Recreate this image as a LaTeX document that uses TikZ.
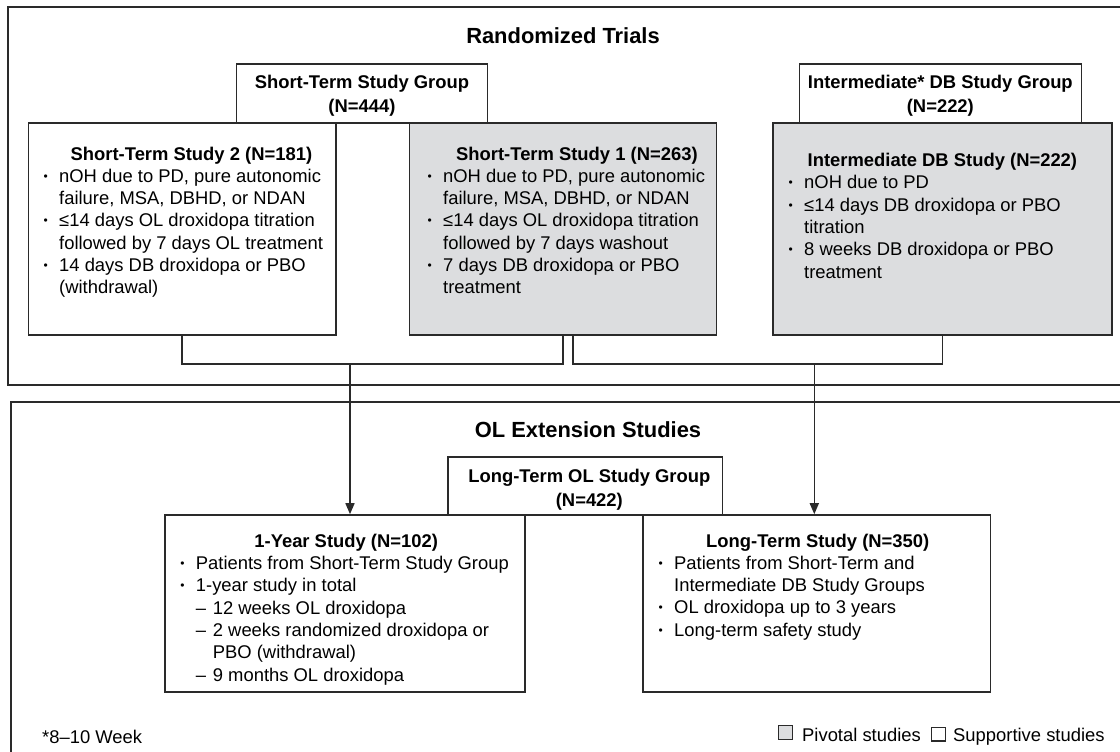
\documentclass[tikz,border=0pt]{standalone}
\usepackage{fontspec}
\setmainfont{Liberation Sans}
\usepackage{tikz}
\usetikzlibrary{arrows.meta,positioning,fit,calc}

\definecolor{linegray}{HTML}{2A2A2A}
\definecolor{pivotgray}{HTML}{DCDDDF}

\newcommand{\bodyfont}{\fontsize{18.4}{22.3}\selectfont}
\newcommand{\bul}{\makebox[15.5pt][l]{\raisebox{2pt}{\fontsize{12}{12}\selectfont\textbullet}}}
\newcommand{\ind}{\hspace*{15.5pt}}
\newcommand{\dsh}{\ind\makebox[17pt][l]{--}}

\begin{document}
\begin{tikzpicture}[
  x=1pt, y=-1pt,
  panel/.style={draw=linegray, line width=2pt, inner sep=0pt},
  boxframe/.style={draw=linegray, line width=1.6pt, inner sep=0pt, fill=white},
  pivotal/.style={boxframe, fill=pivotgray},
  groupbox/.style={boxframe},
  grouptext/.style={anchor=north, inner sep=0pt, align=center, font=\fontsize{18.4}{23.4}\selectfont\bfseries},
  bodytext/.style={anchor=north west, inner sep=0pt, align=left, font=\bodyfont},
  title/.style={anchor=base, inner sep=0pt, font=\fontsize{21.9}{26}\selectfont\bfseries},
  note/.style={anchor=base west, inner sep=0pt, font=\bodyfont},
  legsq/.style={draw=linegray, line width=1.2pt, minimum width=14pt, minimum height=13.5pt, inner sep=0pt},
  link/.style={draw=linegray, line width=1.6pt},
  arrow/.style={link, -{Triangle[length=11pt, width=9pt]}},
]
\path[use as bounding box, clip] (0,0) rectangle (1120,752);

% Randomized trials panel
\node[panel, fit={(7.9,7.3) (1130,384.5)}] (rtpanel) {};
\node[title] (rttitle) at (563,43.3) {Randomized Trials};

% Short-term study 2 (supportive)
\node[boxframe, fit={(28.6,122.7) (335.7,335)}] (st2) {};
\node[bodytext] (st2txt) at (43.5,146.5) {%
  \hspace*{27pt}\textbf{Short-Term Study 2 (N=181)}\\
  \bul nOH due to PD, pure autonomic\\
  \ind failure, MSA, DBHD, or NDAN\\
  \bul ≤14 days OL droxidopa titration\\
  \ind followed by 7 days OL treatment\\
  \bul 14 days DB droxidopa or PBO\\
  \ind (withdrawal)};

% Short-term study 1 (pivotal)
\node[pivotal, fit={(409.6,122.7) (716.4,335)}] (st1) {};
\node[bodytext] (st1txt) at (427.5,146.5) {%
  \hspace*{28.5pt}\textbf{Short-Term Study 1 (N=263)}\\
  \bul nOH due to PD, pure autonomic\\
  \ind failure, MSA, DBHD, or NDAN\\
  \bul ≤14 days OL droxidopa titration\\
  \ind followed by 7 days washout\\
  \bul 7 days DB droxidopa or PBO\\
  \ind treatment};

% Intermediate DB study (pivotal)
\node[pivotal, fit={(773.2,122.7) (1111.8,335)}] (int) {};
\node[bodytext] (inttxt) at (788.5,153) {%
  \hspace*{19pt}\textbf{Intermediate DB Study (N=222)}\\
  \bul nOH due to PD\\
  \bul ≤14 days DB droxidopa or PBO\\
  \ind titration\\
  \bul 8 weeks DB droxidopa or PBO\\
  \ind treatment};

% Group labels
\node[groupbox, fit={(236.4,64) (487.5,122.7)}] (stgroup) {};
\node[grouptext] (stgrouptxt) at ([yshift=-12pt]stgroup.north) {Short-Term Study Group\\(N=444)};
\node[groupbox, fit={(799.3,64) (1081.4,122.7)}] (intgroup) {};
\node[grouptext] (intgrouptxt) at ([yshift=-12pt]intgroup.north) {Intermediate* DB Study Group\\(N=222)};

% OL extension panel
\node[panel, fit={(11.4,401.7) (1130,770)}] (olpanel) {};
\node[title] (oltitle) at (588,437.3) {OL Extension Studies};

% 1-year study (supportive)
\node[boxframe, fit={(165,515) (525,691.7)}] (oneyr) {};
\node[bodytext] (oneyrtxt) at (180.2,533.8) {%
  \hspace*{74pt}\textbf{1-Year Study (N=102)}\\
  \bul Patients from Short-Term Study Group\\
  \bul 1-year study in total\\
  \dsh 12 weeks OL droxidopa\\
  \dsh 2 weeks randomized droxidopa or\\
  \ind\hspace*{17pt}PBO (withdrawal)\\
  \dsh 9 months OL droxidopa};

% Long-term study (supportive)
\node[boxframe, fit={(642.9,515) (990.4,691.7)}] (ltstudy) {};
\node[bodytext] (lttxt) at (658.5,533.5) {%
  \hspace*{47.5pt}\textbf{Long-Term Study (N=350)}\\
  \bul Patients from Short-Term and\\
  \ind Intermediate DB Study Groups\\
  \bul OL droxidopa up to 3 years\\
  \bul Long-term safety study};

\node[groupbox, fit={(448.2,456.7) (722.5,515)}] (ltgroup) {};
\node[grouptext] (ltgrouptxt) at ([xshift=4pt, yshift=-13.5pt]ltgroup.north) {Long-Term OL Study Group\\(N=422)};

% Connectors
\coordinate (j1) at (350,364);
\coordinate (j2) at (814.3,364);
\draw[link] (st2.south) |- (j1) -| (st1.south);
\draw[link] ([xshift=10pt]st1.south) |- (j2) -| (int.south);
\draw[arrow] (j1) -- (j1 |- oneyr.north);
\draw[arrow] (j2) -- (j2 |- ltstudy.north);

% Footnote and legend
\node[note] (foot) at (42,743) {*8--10 Week};
\node[note] (pivlbl) at (802,741) {Pivotal studies};
\node[note] (suplbl) at (953,741) {Supportive studies};
\node[legsq, fill=pivotgray, left=9pt of pivlbl, yshift=2pt] (pivsq) {};
\node[legsq, fill=white, left=7.3pt of suplbl, yshift=2pt] (supsq) {};

\end{tikzpicture}
\end{document}
